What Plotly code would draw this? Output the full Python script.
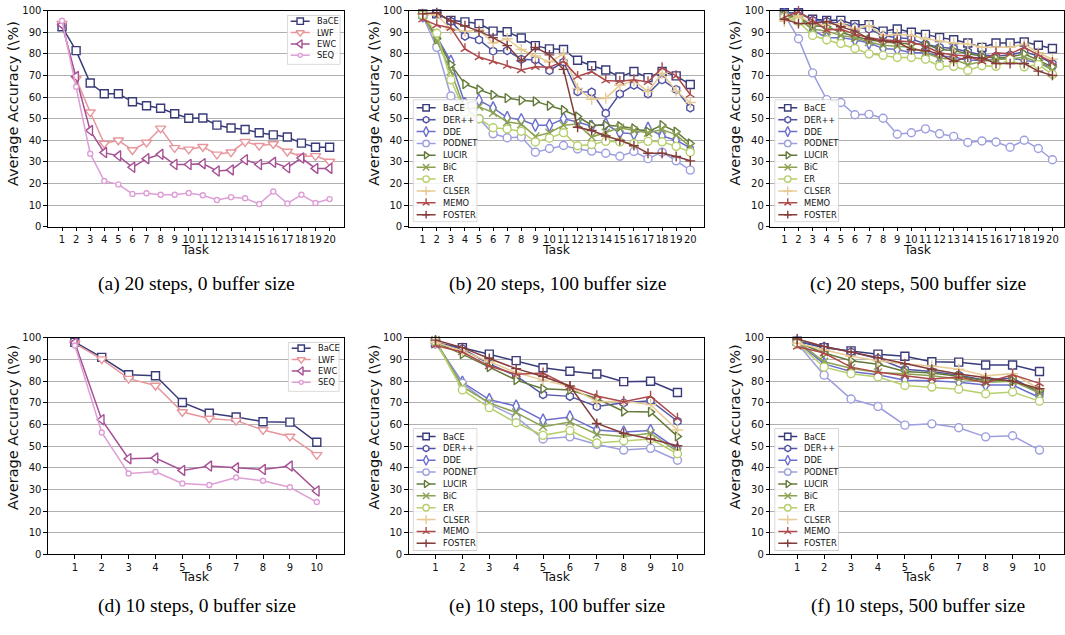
import plotly.graph_objects as go

W, H = 1065, 635

TASKS_20 = list(range(1, 21))
TASKS_10 = list(range(1, 11))

# ---- (a) 20 steps, 0 buffer size ----
A_BACE = [92.5, 81.5, 66.5, 61.5, 61.5, 57.8, 56.0, 54.8, 52.3, 50.2, 50.3, 47.0, 45.7, 45.0, 43.5, 42.5, 41.5, 38.7, 36.8, 36.8]
A_LWF = [94.0, 68.5, 53.0, 38.5, 40.0, 35.5, 39.0, 45.5, 36.5, 35.8, 37.0, 33.5, 34.5, 39.3, 37.5, 38.3, 34.8, 32.5, 32.8, 30.2]
A_EWC = [93.5, 69.5, 44.5, 34.3, 32.8, 27.5, 31.5, 33.5, 28.8, 28.8, 29.2, 25.8, 26.3, 31.0, 28.8, 29.8, 27.3, 31.8, 27.0, 27.0]
A_SEQ = [95.3, 64.8, 33.8, 21.2, 19.6, 15.2, 15.5, 14.8, 14.8, 15.6, 14.6, 12.4, 13.7, 13.2, 10.5, 16.3, 10.8, 14.8, 11.0, 12.8]

# ---- (b) 20 steps, 100 buffer size ----
B_BACE = [98.5, 98.5, 95.5, 94.8, 94.0, 90.5, 90.2, 87.3, 83.8, 82.3, 82.0, 77.0, 74.5, 72.5, 69.3, 71.8, 69.0, 71.8, 69.8, 65.8]
B_DERPP = [97.8, 98.8, 95.0, 88.2, 86.5, 81.3, 81.5, 77.5, 77.2, 72.3, 76.2, 62.5, 62.3, 52.5, 61.5, 65.5, 61.5, 68.0, 63.5, 55.0]
B_DDE = [97.5, 88.0, 76.5, 57.0, 58.5, 55.0, 50.5, 49.5, 47.0, 47.0, 50.0, 48.5, 46.5, 47.5, 43.5, 43.0, 45.5, 42.0, 40.0, 36.5]
B_PODNET = [97.5, 83.0, 60.5, 55.0, 50.0, 43.0, 41.2, 41.5, 34.5, 36.2, 37.6, 36.0, 35.0, 34.0, 32.6, 34.8, 31.5, 34.5, 30.5, 26.2]
B_LUCIR = [98.0, 87.0, 75.0, 66.0, 63.5, 61.0, 59.5, 58.5, 58.0, 56.0, 54.0, 51.0, 47.0, 47.0, 46.5, 45.5, 44.0, 47.0, 44.0, 38.5]
B_BIC = [98.0, 86.0, 72.0, 54.0, 55.5, 52.8, 48.5, 47.5, 41.8, 43.5, 47.0, 47.5, 41.5, 43.5, 45.8, 44.5, 43.5, 45.0, 42.5, 37.0]
B_ER = [98.0, 89.5, 68.0, 53.0, 50.0, 45.8, 45.2, 44.2, 39.2, 41.0, 43.5, 37.5, 38.0, 39.5, 39.2, 38.5, 39.5, 39.3, 37.2, 34.5]
B_CLSER = [98.5, 98.0, 91.5, 90.5, 91.0, 85.0, 87.0, 82.0, 79.0, 76.2, 80.0, 64.0, 59.0, 59.5, 65.5, 67.5, 62.5, 71.0, 62.8, 57.5]
B_MEMO = [96.0, 93.3, 92.0, 82.3, 78.5, 76.5, 74.5, 72.5, 74.0, 73.8, 76.5, 69.5, 71.8, 67.7, 67.3, 68.0, 67.0, 73.5, 69.8, 61.2]
B_FOSTER = [98.5, 99.0, 95.2, 93.0, 90.5, 87.5, 83.8, 76.8, 83.0, 79.5, 72.8, 46.0, 44.5, 42.0, 40.0, 37.5, 34.0, 34.0, 32.5, 30.5]

# ---- (c) 20 steps, 500 buffer size ----
C_BACE = [99.0, 99.0, 96.0, 95.5, 95.5, 93.5, 93.5, 90.5, 91.5, 90.0, 89.0, 87.5, 86.5, 85.0, 83.0, 85.0, 85.0, 85.5, 84.0, 82.5]
C_DERPP = [99.0, 99.0, 95.5, 95.0, 94.0, 92.5, 91.5, 88.5, 87.5, 87.0, 84.5, 83.0, 82.5, 81.0, 79.5, 79.0, 79.5, 81.0, 79.0, 75.5]
C_DDE = [98.0, 97.0, 91.0, 87.5, 87.5, 86.5, 85.0, 82.5, 82.0, 80.5, 80.5, 79.0, 78.5, 77.0, 77.0, 77.5, 78.0, 77.0, 76.0, 73.5]
C_PODNET = [98.0, 87.0, 71.2, 58.8, 57.5, 51.8, 52.0, 50.2, 42.8, 43.5, 45.3, 43.0, 41.8, 39.0, 39.7, 39.2, 36.8, 40.0, 36.2, 31.0]
C_LUCIR = [98.0, 97.0, 93.0, 92.5, 90.0, 88.0, 86.5, 85.5, 85.0, 84.5, 84.5, 82.0, 81.5, 80.0, 79.0, 78.0, 78.5, 80.0, 77.0, 74.0]
C_BIC = [97.5, 96.0, 91.5, 90.5, 88.5, 87.5, 85.5, 84.0, 83.5, 83.0, 80.5, 78.0, 77.5, 75.0, 76.5, 77.5, 77.5, 78.5, 76.0, 72.5]
C_ER = [97.0, 95.0, 88.5, 86.5, 84.8, 82.5, 80.0, 79.3, 78.3, 78.3, 77.5, 74.3, 74.2, 72.3, 74.5, 74.2, 77.5, 74.0, 75.0, 70.5]
C_CLSER = [95.0, 97.5, 94.0, 93.5, 94.0, 91.5, 93.0, 88.5, 89.0, 88.5, 87.0, 86.0, 85.0, 84.5, 83.0, 83.0, 83.0, 84.5, 80.5, 77.5]
C_MEMO = [97.0, 99.5, 95.5, 91.0, 91.5, 89.0, 87.5, 86.5, 86.0, 85.5, 83.5, 80.5, 79.5, 79.0, 76.5, 80.5, 80.0, 83.0, 79.5, 76.0]
C_FOSTER = [96.0, 94.0, 94.0, 95.0, 92.5, 90.5, 87.0, 86.0, 85.5, 82.0, 81.5, 80.0, 76.5, 78.5, 78.0, 75.5, 75.5, 75.5, 72.0, 70.0]

# ---- (d) 10 steps, 0 buffer size ----
D_BACE = [98.0, 91.0, 83.0, 82.5, 70.2, 65.2, 63.5, 61.3, 61.1, 51.8]
D_LWF = [97.5, 90.2, 81.2, 78.0, 65.8, 62.8, 61.8, 57.5, 54.5, 46.0]
D_EWC = [97.8, 62.2, 44.2, 44.5, 38.8, 40.8, 40.0, 39.2, 40.8, 29.3]
D_SEQ = [96.5, 56.3, 37.4, 38.2, 32.8, 32.1, 35.5, 34.0, 31.0, 24.2]

# ---- (e) 10 steps, 100 buffer size ----
E_BACE = [97.8, 95.5, 92.5, 89.5, 86.2, 84.6, 83.3, 79.8, 80.0, 74.8]
E_DERPP = [97.5, 95.0, 88.0, 82.5, 73.8, 73.0, 68.3, 70.0, 71.0, 61.5]
E_DDE = [98.0, 79.5, 71.5, 68.5, 62.0, 63.5, 57.5, 56.5, 57.2, 48.5]
E_PODNET = [97.5, 79.0, 69.5, 63.5, 53.3, 54.3, 50.8, 48.2, 49.0, 43.5]
E_LUCIR = [98.0, 92.5, 86.5, 80.5, 76.5, 76.0, 72.0, 66.0, 65.8, 54.5]
E_BIC = [99.0, 77.5, 70.0, 65.5, 59.0, 61.2, 55.5, 54.5, 56.0, 47.5]
E_ER = [98.5, 76.0, 67.8, 60.8, 55.0, 57.2, 51.5, 52.5, 53.3, 46.5]
E_CLSER = [98.0, 94.0, 89.0, 84.0, 80.5, 77.5, 70.5, 70.8, 69.2, 57.5]
E_MEMO = [96.5, 93.5, 87.0, 83.2, 83.8, 77.5, 73.2, 70.5, 73.0, 62.8]
E_FOSTER = [99.0, 95.5, 90.5, 85.8, 82.2, 77.8, 60.5, 56.0, 53.3, 50.2]

# ---- (f) 10 steps, 500 buffer size ----
F_BACE = [98.5, 95.5, 94.0, 92.5, 91.5, 89.0, 88.8, 87.5, 87.5, 84.5]
F_DERPP = [98.5, 96.0, 93.5, 90.5, 85.5, 84.5, 82.8, 80.5, 81.5, 74.5]
F_DDE = [98.0, 88.0, 84.5, 83.0, 80.5, 80.2, 79.5, 78.3, 78.2, 72.5]
F_PODNET = [97.5, 82.8, 71.8, 68.3, 59.7, 60.3, 58.5, 54.3, 54.8, 48.2]
F_LUCIR = [98.0, 93.0, 89.5, 87.8, 84.5, 83.8, 82.3, 80.2, 80.2, 75.5]
F_BIC = [98.5, 89.0, 86.0, 84.0, 83.5, 82.5, 81.0, 79.5, 80.0, 74.5]
F_ER = [97.5, 86.5, 83.5, 82.0, 78.0, 77.3, 76.3, 74.2, 75.0, 70.8]
F_CLSER = [97.5, 94.5, 91.5, 89.5, 88.0, 87.0, 85.5, 82.5, 83.5, 76.5]
F_MEMO = [96.0, 93.0, 86.5, 84.2, 82.5, 81.0, 82.0, 79.3, 83.0, 79.0]
F_FOSTER = [99.5, 96.0, 93.5, 90.8, 88.0, 85.5, 83.3, 81.5, 80.0, 76.5]

NAMES_SMALL = ["BaCE", "LWF", "EWC", "SEQ"]
NAMES_BIG = ["BaCE", "DER++", "DDE", "PODNET", "LUCIR", "BiC", "ER", "CLSER", "MEMO", "FOSTER"]

CAPTIONS = [
    "(a) 20 steps, 0 buffer size", "(b) 20 steps, 100 buffer size", "(c) 20 steps, 500 buffer size",
    "(d) 10 steps, 0 buffer size", "(e) 10 steps, 100 buffer size", "(f) 10 steps, 500 buffer size",
]

# marker / colour style per method (tab20b palette)
STYLE = {
    "BaCE":   dict(color="#393b79", symbol="square", size=8),
    "LWF":    dict(color="#e7969c", symbol="triangle-down", size=9),
    "EWC":    dict(color="#a55194", symbol="triangle-left", size=9),
    "SEQ":    dict(color="#de9ed6", symbol="circle", size=5),
    "DER++":  dict(color="#5254a3", symbol="hexagon", size=8),
    "DDE":    dict(color="#6b6ecf", symbol="diamond-tall", size=9),
    "PODNET": dict(color="#9c9ede", symbol="circle", size=8),
    "LUCIR":  dict(color="#637939", symbol="triangle-right", size=8),
    "BiC":    dict(color="#8ca252", symbol="x-thin-open", size=8),
    "ER":     dict(color="#b5cf6b", symbol="circle", size=8),
    "CLSER":  dict(color="#e7cb94", symbol="cross-thin-open", size=8),
    "MEMO":   dict(color="#ad494a", symbol="y-up-open", size=7),
    "FOSTER": dict(color="#843c39", symbol="cross-thin-open", size=7),
}

PANELS = [
    (TASKS_20, NAMES_SMALL, [A_BACE, A_LWF, A_EWC, A_SEQ]),
    (TASKS_20, NAMES_BIG, [B_BACE, B_DERPP, B_DDE, B_PODNET, B_LUCIR, B_BIC, B_ER, B_CLSER, B_MEMO, B_FOSTER]),
    (TASKS_20, NAMES_BIG, [C_BACE, C_DERPP, C_DDE, C_PODNET, C_LUCIR, C_BIC, C_ER, C_CLSER, C_MEMO, C_FOSTER]),
    (TASKS_10, NAMES_SMALL, [D_BACE, D_LWF, D_EWC, D_SEQ]),
    (TASKS_10, NAMES_BIG, [E_BACE, E_DERPP, E_DDE, E_PODNET, E_LUCIR, E_BIC, E_ER, E_CLSER, E_MEMO, E_FOSTER]),
    (TASKS_10, NAMES_BIG, [F_BACE, F_DERPP, F_DDE, F_PODNET, F_LUCIR, F_BIC, F_ER, F_CLSER, F_MEMO, F_FOSTER]),
]

# pixel geometry of the six axes boxes
COL_X = [(48, 344), (409, 705), (771, 1065)]
ROW_Y = [(4.7, 225), (338.3, 559)]
X_MAX = {0: 21, 1: 21, 2: 20.82}
X_MAX10 = {0: 11, 1: 11, 2: 10.91}

# legend boxes (left, top, right, bottom) in pixels
LEGEND_BOX = [
    (287, 9, 341, 60),
    (413, 95, 478, 220.5),
    (775, 95, 840, 220.5),
    (288, 342.3, 340, 393.3),
    (413, 430, 478, 555.5),
    (775, 430, 840, 555.5),
]

TICK_FONT = dict(family="DejaVu Sans", size=10, color="#111111")


def marker_for(name, scale=1.0):
    st = STYLE[name]
    sym = st["symbol"]
    if sym.endswith("-open"):
        return dict(symbol=sym, size=st["size"] * scale, color=st["color"],
                    line=dict(color=st["color"], width=1.4))
    return dict(symbol=sym, size=st["size"] * scale, color="white",
                line=dict(color=st["color"], width=1.4))


fig = go.Figure()
layout = dict(
    width=W, height=H, margin=dict(l=0, r=0, t=0, b=0),
    paper_bgcolor="white", plot_bgcolor="rgba(0,0,0,0)", showlegend=False,
    font=dict(family="DejaVu Sans", color="#111111"),
)
annotations = []

for p, (tasks, names, series) in enumerate(PANELS):
    row, col = divmod(p, 3)
    k = p + 1
    xs = "" if k == 1 else str(k)
    x0, x1 = COL_X[col]
    y0, y1 = ROW_Y[row]
    xmax = X_MAX[col] if len(tasks) == 20 else X_MAX10[col]
    layout["xaxis" + xs] = dict(
        domain=[x0 / W, x1 / W], anchor="y" + xs, range=[0, xmax],
        tickmode="array", tickvals=tasks, ticktext=[str(t) for t in tasks],
        tickangle=0, ticks="outside", ticklen=3.5, tickwidth=0.8, tickcolor="black",
        showline=True, linecolor="black", linewidth=1, mirror=True,
        showgrid=False, zeroline=False, tickfont=TICK_FONT, fixedrange=True,
    )
    layout["yaxis" + xs] = dict(
        domain=[1 - y1 / H, 1 - y0 / H], anchor="x" + xs, range=[0, 100],
        tickmode="linear", tick0=0, dtick=10,
        ticks="outside", ticklen=3.5, tickwidth=0.8, tickcolor="black",
        showline=True, linecolor="black", linewidth=1, mirror=True,
        showgrid=True, gridcolor="#b0b0b0", gridwidth=0.8, zeroline=False,
        tickfont=TICK_FONT, fixedrange=True,
    )
    for name, vals in zip(names, series):
        st = STYLE[name]
        fig.add_trace(go.Scatter(
            x=tasks, y=vals, mode="lines+markers", name=name,
            line=dict(color=st["color"], width=1.5),
            marker=marker_for(name), xaxis="x" + xs, yaxis="y" + xs,
            cliponaxis=False,
        ))

    # axis titles and caption
    annotations.append(dict(
        text="Task", x=((x0 + x1) / 2) / W, y=1 - (248 + 333.6 * row) / H,
        xref="paper", yref="paper", showarrow=False, xanchor="center", yanchor="middle",
        font=dict(family="DejaVu Sans", size=12.5, color="#111111"),
    ))
    annotations.append(dict(
        text="Average Accuracy (\\%)", x=(x0 - 35) / W, y=1 - (99 + 330 * row) / H,
        xref="paper", yref="paper", showarrow=False, textangle=-90,
        xanchor="center", yanchor="middle",
        font=dict(family="DejaVu Sans", size=14.5, color="#111111"),
    ))
    annotations.append(dict(
        text=CAPTIONS[p], x=((x0 + x1) / 2 + 1) / W, y=1 - (283 + 329 * row) / H,
        xref="paper", yref="paper", showarrow=False, xanchor="center", yanchor="middle",
        font=dict(family="Liberation Serif", size=19.5, color="black"),
    ))

# legends drawn on their own overlay axes, in pixel coordinates
for p, (tasks, names, series) in enumerate(PANELS):
    k = 7 + p
    ks = str(k)
    lx0, ly0, lx1, ly1 = LEGEND_BOX[p]
    layout["xaxis" + ks] = dict(domain=[lx0 / W, lx1 / W], range=[lx0, lx1], visible=False,
                                anchor="y" + ks, fixedrange=True)
    layout["yaxis" + ks] = dict(domain=[1 - ly1 / H, 1 - ly0 / H], range=[ly1, ly0], visible=False,
                                anchor="x" + ks, fixedrange=True)
    fig.add_trace(go.Scatter(
        x=[lx0 + 0.5, lx1 - 0.5, lx1 - 0.5, lx0 + 0.5, lx0 + 0.5],
        y=[ly0 + 0.5, ly0 + 0.5, ly1 - 0.5, ly1 - 0.5, ly0 + 0.5],
        mode="lines", fill="toself", fillcolor="rgba(255,255,255,0.85)",
        line=dict(color="#d0d0d0", width=1), xaxis="x" + ks, yaxis="y" + ks,
        hoverinfo="skip", cliponaxis=False,
    ))
    n = len(names)
    step = 11.6 if n == 4 else 12.1
    first = 6.5 if n == 4 else 8.8
    for i, name in enumerate(names):
        st = STYLE[name]
        yy = ly0 + first + i * step
        fig.add_trace(go.Scatter(
            x=[lx0 + 4, lx0 + 23], y=[yy, yy], mode="lines",
            line=dict(color=st["color"], width=1.5), xaxis="x" + ks, yaxis="y" + ks,
            hoverinfo="skip", cliponaxis=False,
        ))
        fig.add_trace(go.Scatter(
            x=[lx0 + 13.5], y=[yy], mode="markers", marker=marker_for(name, 0.8),
            xaxis="x" + ks, yaxis="y" + ks, hoverinfo="skip", cliponaxis=False,
        ))
        annotations.append(dict(
            text=name, x=lx0 + 28, y=yy, xref="x" + ks, yref="y" + ks,
            showarrow=False, xanchor="left", yanchor="middle",
            font=dict(family="DejaVu Sans", size=8.3, color="#111111"),
        ))

layout["annotations"] = annotations
fig.update_layout(**layout)
fig.write_html("out.html")
